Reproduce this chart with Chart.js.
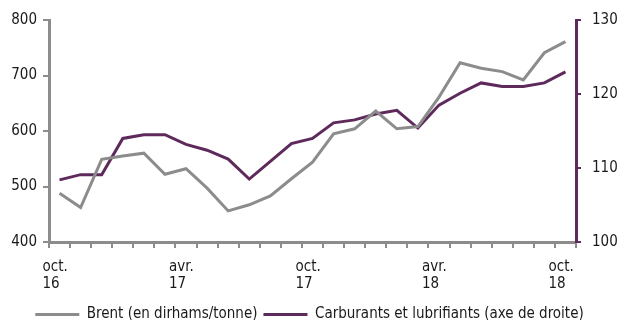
<!DOCTYPE html>
<html>
<head>
<meta charset="utf-8">
<script src="https://cdn.jsdelivr.net/npm/chart.js@4"></script>
<style>
  html, body { margin: 0; padding: 0; background: #fff; }
  #wrap { width: 619px; height: 320px; position: relative; overflow: hidden; }
</style>
</head>
<body>
<div id="wrap"><canvas id="c"></canvas></div>
<script>
// Mois, d'octobre 2016 à octobre 2018
const months = [
  "oct. 16", "nov. 16", "déc. 16", "janv. 17", "févr. 17", "mars 17", "avr. 17",
  "mai 17", "juin 17", "juil. 17", "août 17", "sept. 17", "oct. 17",
  "nov. 17", "déc. 17", "janv. 18", "févr. 18", "mars 18", "avr. 18",
  "mai 18", "juin 18", "juil. 18", "août 18", "sept. 18", "oct. 18"
];

// Brent, en dirhams par tonne (axe de gauche)
const brent = [488, 462, 549, 555, 560, 522, 532, 497, 456, 467, 483, 514, 544,
               595, 604, 636, 604, 608, 661, 723, 713, 707, 692, 741, 761];

// Carburants et lubrifiants, indice (axe de droite)
const carburants = [108.4, 109.1, 109.1, 114.0, 114.5, 114.5, 113.2, 112.4, 111.2,
                    108.5, 110.9, 113.3, 114.0, 116.1, 116.5, 117.3, 117.8, 115.4,
                    118.5, 120.1, 121.5, 121.0, 121.0, 121.5, 123.0];

// Graduations affichées
const leftTicks = [400, 500, 600, 700, 800];
const rightTicks = [100, 110, 120, 130];
const labelEvery = 6;

const GREY = "#8c8c8c";
const PURPLE = "#5e2a5c";
const TEXT = "#1a1a1a";
const FONT = "'DejaVu Sans Condensed', 'Liberation Sans Narrow', sans-serif";

Chart.defaults.font.family = FONT;
Chart.defaults.font.size = 15;
Chart.defaults.color = TEXT;

new Chart(document.getElementById("c"), {
  type: "line",
  data: {
    labels: months,
    datasets: [
      {
        label: "Brent (en dirhams/tonne)",
        data: brent,
        yAxisID: "y",
        borderColor: GREY,
        backgroundColor: GREY,
        borderWidth: 3,
        pointRadius: 0,
        tension: 0
      },
      {
        label: "Carburants et lubrifiants (axe de droite)",
        data: carburants,
        yAxisID: "y1",
        borderColor: PURPLE,
        backgroundColor: PURPLE,
        borderWidth: 3,
        pointRadius: 0,
        tension: 0
      }
    ]
  },
  options: {
    responsive: true,
    maintainAspectRatio: false,
    animation: false,
    layout: { padding: { top: 19, left: 0, right: 0, bottom: -12 } },
    plugins: {
      tooltip: { enabled: false },
      legend: {
        position: "bottom",
        labels: {
          boxWidth: 44,
          boxHeight: 3,
          padding: 6,
          font: { size: 15 },
          color: TEXT,
          generateLabels(chart) {
            const items = Chart.defaults.plugins.legend.labels.generateLabels(chart);
            items.forEach(it => { it.lineWidth = 0; });
            return items;
          }
        }
      }
    },
    scales: {
      x: {
        offset: true,
        grid: {
          drawOnChartArea: false,
          offset: true,
          tickLength: 6,
          color: GREY,
          lineWidth: 2
        },
        border: { color: GREY, width: 3 },
        ticks: {
          autoSkip: false,
          maxRotation: 0,
          align: "start",
          labelOffset: -17,
          padding: 10,
          font: { size: 15, lineHeight: 1.15 },
          callback(value, index) {
            if (index % labelEvery !== 0) return "";
            return months[index].split(" ");
          }
        },
        afterFit(scale) { scale.height = 59; }
      },
      y: {
        position: "left",
        min: 400,
        max: 800,
        afterBuildTicks(scale) { scale.ticks = leftTicks.map(v => ({ value: v })); },
        grid: {
          drawOnChartArea: false,
          tickLength: 6,
          color: GREY,
          lineWidth: 2
        },
        border: { color: GREY, width: 3 },
        ticks: { padding: 6 },
        afterFit(scale) { scale.width = 49; }
      },
      y1: {
        position: "right",
        min: 100,
        max: 130,
        afterBuildTicks(scale) { scale.ticks = rightTicks.map(v => ({ value: v })); },
        grid: {
          drawOnChartArea: false,
          tickLength: 5,
          color: PURPLE,
          lineWidth: 2
        },
        border: { color: PURPLE, width: 3 },
        ticks: { padding: 11 },
        afterFit(scale) { scale.width = 43; }
      }
    }
  }
});
</script>
</body>
</html>
